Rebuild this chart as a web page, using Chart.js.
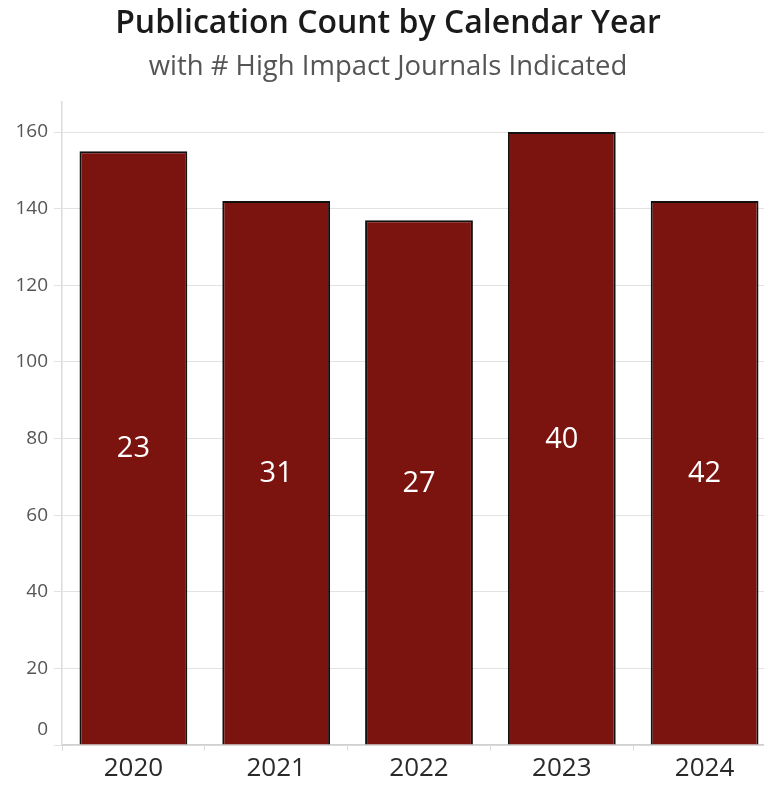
<!DOCTYPE html>
<html>
<head>
<meta charset="utf-8">
<script src="https://cdn.jsdelivr.net/npm/chart.js@4.4.1/dist/chart.umd.min.js"></script>
<style>
  html, body { margin: 0; padding: 0; background: #ffffff; overflow: hidden; }
  #wrap { width: 784px; height: 786px; position: relative; }
</style>
</head>
<body>
<div id="wrap"><canvas id="c" width="784" height="786"></canvas></div>
<script>
const years = ['2020', '2021', '2022', '2023', '2024'];
const publicationCounts = [155, 142, 137, 160, 142];
const highImpactCounts = [23, 31, 27, 40, 42];
const yTicks = [0, 20, 40, 60, 80, 100, 120, 140, 160];

const barLabelPlugin = {
  id: 'barLabels',
  afterDatasetsDraw(chart) {
    const ctx = chart.ctx;
    const meta = chart.getDatasetMeta(0);
    ctx.save();
    ctx.fillStyle = '#ffffff';
    ctx.font = '500 29px "Open Sans", sans-serif';
    ctx.textAlign = 'center';
    ctx.textBaseline = 'middle';
    meta.data.forEach((bar, i) => {
      const props = bar.getProps(['x', 'y', 'base'], true);
      ctx.fillText(String(highImpactCounts[i]), props.x, (props.y + props.base) / 2 + 1);
    });
    ctx.restore();
  }
};

const zeroLabelPlugin = {
  id: 'zeroLabel',
  afterDraw(chart) {
    const y = chart.scales.y;
    const ctx = chart.ctx;
    ctx.save();
    ctx.fillStyle = '#555555';
    ctx.font = '19px "Open Sans", sans-serif';
    ctx.textAlign = 'right';
    ctx.textBaseline = 'middle';
    ctx.fillText('0', y.right - 14, y.getPixelForValue(0) - 15);
    ctx.restore();
  }
};

new Chart(document.getElementById('c'), {
  type: 'bar',
  data: {
    labels: years,
    datasets: [{
      data: publicationCounts,
      backgroundColor: '#7b130e',
      borderColor: '#111111',
      borderWidth: 2,
      categoryPercentage: 1.0,
      barPercentage: 0.755
    }]
  },
  options: {
    responsive: false,
    animation: false,
    layout: { padding: { left: 0, right: 8, top: 0, bottom: 0 } },
    plugins: {
      legend: { display: false },
      tooltip: { enabled: false },
      title: {
        display: true,
        text: 'Publication Count by Calendar Year',
        color: '#1a1a1a',
        font: { family: '"Open Sans", sans-serif', size: 32, weight: '600', lineHeight: 1.2 },
        padding: { top: 5, bottom: 7 }
      },
      subtitle: {
        display: true,
        text: 'with # High Impact Journals Indicated',
        color: '#555555',
        font: { family: '"Open Sans", sans-serif', size: 27.5, weight: '400', lineHeight: 1.2 },
        padding: { top: 0, bottom: 18 }
      }
    },
    scales: {
      x: {
        grid: { display: true, drawOnChartArea: false, drawTicks: true, tickLength: 6, color: '#dddddd', offset: true },
        border: { display: true, color: '#d0d0d0', width: 1.5 },
        ticks: { color: '#2a2a2a', font: { family: '"Open Sans", sans-serif', size: 26 }, padding: 2, maxRotation: 0 },
        afterFit(scale) { scale.height = 41; }
      },
      y: {
        min: 0,
        max: 168,
        grid: { color: '#e2e2e2', lineWidth: 1, tickLength: 8 },
        border: { display: true, color: '#dcdcdc', width: 1.5 },
        ticks: {
          stepSize: 20,
          includeBounds: false,
          color: '#555555',
          font: { family: '"Open Sans", sans-serif', size: 19 },
          padding: 6,
          callback: (v) => (yTicks.includes(v) && v !== 0 ? String(v) : '')
        },
        afterFit(scale) { scale.width = 62; }
      }
    }
  },
  plugins: [barLabelPlugin, zeroLabelPlugin]
});
</script>
</body>
</html>
